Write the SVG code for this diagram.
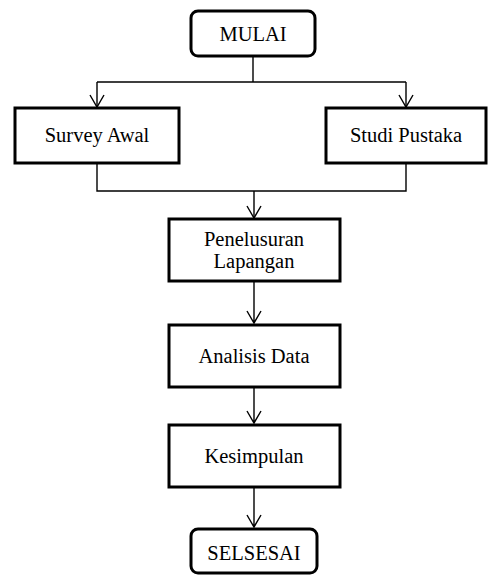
<svg xmlns="http://www.w3.org/2000/svg" width="488" height="575" viewBox="0 0 488 575">
<style>
.box{fill:#fff;stroke:#000;stroke-width:3}
.t{font-family:"Liberation Serif","Times New Roman",serif;font-size:20.5px;fill:#000;text-anchor:middle}
.c{fill:none;stroke:#000;stroke-width:1.4}
</style>
<rect width="488" height="575" fill="#fff"/>
<g id="connectors" class="c">
<path d="M253 57V82M97 82H406M97 82V107M406 82V107"/>
<path d="M90 95L97 107L104 95M399 95L406 107L413 95"/>
<path d="M97 163V191H406V163M254 191V218"/>
<path d="M247 206L254 218L261 206"/>
<path d="M254 281V323M247 311L254 323L261 311"/>
<path d="M254 387V423M247 411L254 423L261 411"/>
<path d="M254 487V527M247 515L254 527L261 515"/>
</g>
<g id="mulai"><rect class="box" x="191" y="11" width="124" height="45" rx="7"/><text class="t" x="253" y="41">MULAI</text></g>
<g id="survey"><rect class="box" x="15" y="108" width="164" height="55"/><text class="t" x="97" y="142">Survey Awal</text></g>
<g id="studi"><rect class="box" x="326" y="108" width="160" height="55"/><text class="t" x="406" y="142">Studi Pustaka</text></g>
<g id="penelusuran"><rect class="box" x="169" y="219" width="171" height="62"/><text class="t" x="254" y="246">Penelusuran</text><text class="t" x="254" y="268">Lapangan</text></g>
<g id="analisis"><rect class="box" x="169" y="325" width="171" height="62"/><text class="t" x="254" y="363">Analisis Data</text></g>
<g id="kesimpulan"><rect class="box" x="169" y="425" width="171" height="62"/><text class="t" x="254" y="463">Kesimpulan</text></g>
<g id="selsesai"><rect class="box" x="191" y="529" width="126" height="44" rx="7"/><text class="t" x="254" y="560">SELSESAI</text></g>
</svg>
